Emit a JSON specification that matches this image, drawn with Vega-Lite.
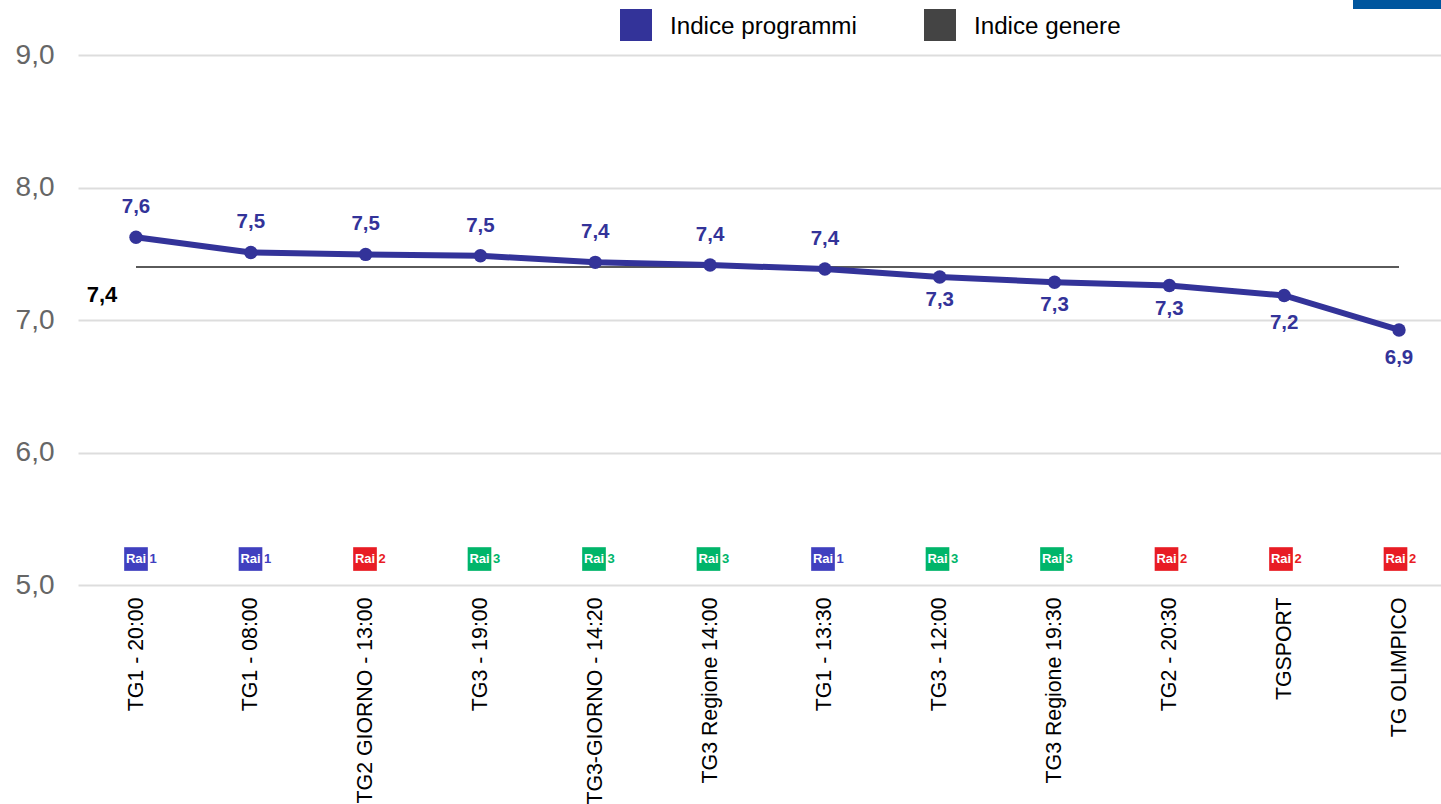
{"$schema":"https://vega.github.io/schema/vega-lite/v6.json","width":1363,"height":530,"autosize":{"type":"none"},"padding":{"left":78,"top":55,"right":0,"bottom":219},"background":"white","config":{"view":{"stroke":null},"font":"Liberation Sans"},
"params":[],
"datasets":{"rows":[
{"program":"TG1 - 20:00","channel":"Rai 1","digit":"1","series":"Indice programmi","value":7.625,"label":"7,6"},
{"program":"TG1 - 08:00","channel":"Rai 1","digit":"1","series":"Indice programmi","value":7.51,"label":"7,5"},
{"program":"TG2 GIORNO - 13:00","channel":"Rai 2","digit":"2","series":"Indice programmi","value":7.495,"label":"7,5"},
{"program":"TG3 - 19:00","channel":"Rai 3","digit":"3","series":"Indice programmi","value":7.485,"label":"7,5"},
{"program":"TG3-GIORNO - 14:20","channel":"Rai 3","digit":"3","series":"Indice programmi","value":7.435,"label":"7,4"},
{"program":"TG3 Regione 14:00","channel":"Rai 3","digit":"3","series":"Indice programmi","value":7.415,"label":"7,4"},
{"program":"TG1 - 13:30","channel":"Rai 1","digit":"1","series":"Indice programmi","value":7.385,"label":"7,4"},
{"program":"TG3 - 12:00","channel":"Rai 3","digit":"3","series":"Indice programmi","value":7.325,"label":"7,3"},
{"program":"TG3 Regione 19:30","channel":"Rai 3","digit":"3","series":"Indice programmi","value":7.285,"label":"7,3"},
{"program":"TG2 - 20:30","channel":"Rai 2","digit":"2","series":"Indice programmi","value":7.26,"label":"7,3"},
{"program":"TGSPORT","channel":"Rai 2","digit":"2","series":"Indice programmi","value":7.185,"label":"7,2"},
{"program":"TG OLIMPICO","channel":"Rai 2","digit":"2","series":"Indice programmi","value":6.925,"label":"6,9"}
],
"genre":[
{"program":"TG1 - 20:00","value":7.4,"label":"7,4"},
{"program":"TG1 - 08:00","value":7.4},{"program":"TG2 GIORNO - 13:00","value":7.4},{"program":"TG3 - 19:00","value":7.4},{"program":"TG3-GIORNO - 14:20","value":7.4},{"program":"TG3 Regione 14:00","value":7.4},{"program":"TG1 - 13:30","value":7.4},{"program":"TG3 - 12:00","value":7.4},{"program":"TG3 Regione 19:30","value":7.4},{"program":"TG2 - 20:30","value":7.4},{"program":"TGSPORT","value":7.4},{"program":"TG OLIMPICO","value":7.4}
],
"corner":[{"a":1353,"b":1441,"c":9.415,"d":9.347}]},
"data":{"name":"rows"},
"resolve":{"scale":{"x":"independent","color":"independent"}},
"layer":[
{"data":{"name":"corner"},"mark":{"type":"rect","color":"#00569e","clip":false},
"encoding":{"x":{"field":"a","type":"quantitative","scale":{"domain":[78,1441],"nice":false,"zero":false},"axis":null},"x2":{"field":"b"},"y":{"field":"c","type":"quantitative","scale":{"domain":[5,9],"nice":false,"zero":false},"title":null,
"axis":{"values":[5,6,7,8,9],"labelExpr":"replace(format(datum.value,'.1f'),'.',',')","labelFont":"Liberation Sans","labelFontSize":28,"labelColor":"#666666","labelPadding":24,"ticks":false,"domain":false,"grid":true,"gridColor":"#dddddd","gridWidth":2}},"y2":{"field":"d"}}},
{"data":{"name":"genre"},"mark":{"type":"line","color":"#5a5a5a","strokeWidth":2},
"encoding":{"x":{"field":"program","type":"nominal","sort":null,"scale":{"type":"point","padding":0,"range":[58,1321]},"title":null,
"axis":{"labelAngle":-90,"labelFont":"Liberation Sans","labelFontSize":21.3,"labelColor":"#000000","labelPadding":12,"labelLimit":500,"ticks":false,"domain":false,"grid":false,"labelBaseline":"middle","labelAlign":"right"}},
"y":{"field":"value","type":"quantitative"}}},
{"mark":{"type":"line","color":"#333399","strokeWidth":6},
"encoding":{"x":{"field":"program","type":"nominal","sort":null,"scale":{"type":"point","padding":0,"range":[58,1321]},"axis":null},"y":{"field":"value","type":"quantitative"}}},
{"mark":{"type":"point","filled":true,"size":180,"opacity":1},
"encoding":{"x":{"field":"program","type":"nominal","sort":null,"scale":{"type":"point","padding":0,"range":[58,1321]},"axis":null},"y":{"field":"value","type":"quantitative"},
"color":{"field":"series","type":"nominal","scale":{"domain":["Indice programmi","Indice genere"],"range":["#333399","#444444"]},
"legend":{"title":null,"orient":"none","legendX":542,"legendY":-46,"direction":"horizontal","columns":2,"symbolType":"square","symbolSize":1024,"symbolStrokeWidth":0,"symbolOpacity":1,"labelFont":"Liberation Sans","labelFontSize":24.2,"labelColor":"#000000","labelOffset":18,"columnPadding":67,"padding":0,"labelLimit":400,"encode":{"labels":{"update":{"dy":{"value":2}}}}}}}},
{"transform":[{"filter":"datum.value>7.35"}],"mark":{"type":"text","font":"Liberation Sans","fontWeight":"bold","fontSize":20.5,"color":"#333399","dy":-30},
"encoding":{"x":{"field":"program","type":"nominal","sort":null,"scale":{"type":"point","padding":0,"range":[58,1321],"domain":["TG1 - 20:00","TG1 - 08:00","TG2 GIORNO - 13:00","TG3 - 19:00","TG3-GIORNO - 14:20","TG3 Regione 14:00","TG1 - 13:30","TG3 - 12:00","TG3 Regione 19:30","TG2 - 20:30","TGSPORT","TG OLIMPICO"]},"axis":null},"y":{"field":"value","type":"quantitative"},"text":{"field":"label"}}},
{"transform":[{"filter":"datum.value<7.35 && datum.value>7.22"}],"mark":{"type":"text","font":"Liberation Sans","fontWeight":"bold","fontSize":20.5,"color":"#333399","dy":23},
"encoding":{"x":{"field":"program","type":"nominal","sort":null,"scale":{"type":"point","padding":0,"range":[58,1321],"domain":["TG1 - 20:00","TG1 - 08:00","TG2 GIORNO - 13:00","TG3 - 19:00","TG3-GIORNO - 14:20","TG3 Regione 14:00","TG1 - 13:30","TG3 - 12:00","TG3 Regione 19:30","TG2 - 20:30","TGSPORT","TG OLIMPICO"]},"axis":null},"y":{"field":"value","type":"quantitative"},"text":{"field":"label"}}},
{"transform":[{"filter":"datum.value<7.22"}],"mark":{"type":"text","font":"Liberation Sans","fontWeight":"bold","fontSize":20.5,"color":"#333399","dy":28},
"encoding":{"x":{"field":"program","type":"nominal","sort":null,"scale":{"type":"point","padding":0,"range":[58,1321],"domain":["TG1 - 20:00","TG1 - 08:00","TG2 GIORNO - 13:00","TG3 - 19:00","TG3-GIORNO - 14:20","TG3 Regione 14:00","TG1 - 13:30","TG3 - 12:00","TG3 Regione 19:30","TG2 - 20:30","TGSPORT","TG OLIMPICO"]},"axis":null},"y":{"field":"value","type":"quantitative"},"text":{"field":"label"}}},
{"data":{"name":"genre"},"transform":[{"filter":"isValid(datum.label)"}],"mark":{"type":"text","font":"Liberation Sans","fontWeight":"bold","fontSize":22,"color":"#000000","dx":-34,"dy":28},
"encoding":{"x":{"field":"program","type":"nominal","sort":null,"scale":{"type":"point","padding":0,"range":[58,1321],"domain":["TG1 - 20:00","TG1 - 08:00","TG2 GIORNO - 13:00","TG3 - 19:00","TG3-GIORNO - 14:20","TG3 Regione 14:00","TG1 - 13:30","TG3 - 12:00","TG3 Regione 19:30","TG2 - 20:30","TGSPORT","TG OLIMPICO"]},"axis":null},"y":{"field":"value","type":"quantitative"},"text":{"field":"label"}}},
{"mark":{"type":"point","shape":"square","filled":true,"size":560,"opacity":1},
"encoding":{"x":{"field":"program","type":"nominal","sort":null,"scale":{"type":"point","padding":0,"range":[58,1317.5]},"axis":null},"y":{"datum":5.196,"type":"quantitative"},
"color":{"field":"channel","type":"nominal","legend":null,"scale":{"domain":["Rai 1","Rai 2","Rai 3"],"range":["#4040bf","#e81c24","#00b56a"]}}}},
{"mark":{"type":"text","font":"Liberation Sans","fontWeight":"bold","fontSize":13,"color":"#ffffff"},
"encoding":{"x":{"field":"program","type":"nominal","sort":null,"scale":{"type":"point","padding":0,"range":[58,1317.5]},"axis":null},"y":{"datum":5.196,"type":"quantitative"},"text":{"value":"Rai"}}},
{"mark":{"type":"text","font":"Liberation Sans","fontWeight":"bold","fontSize":13,"dx":17},
"encoding":{"x":{"field":"program","type":"nominal","sort":null,"scale":{"type":"point","padding":0,"range":[58,1317.5]},"axis":null},"y":{"datum":5.196,"type":"quantitative"},"text":{"field":"digit"},
"color":{"field":"channel","type":"nominal","legend":null,"scale":{"domain":["Rai 1","Rai 2","Rai 3"],"range":["#4040bf","#e81c24","#00b56a"]}}}}
]}
